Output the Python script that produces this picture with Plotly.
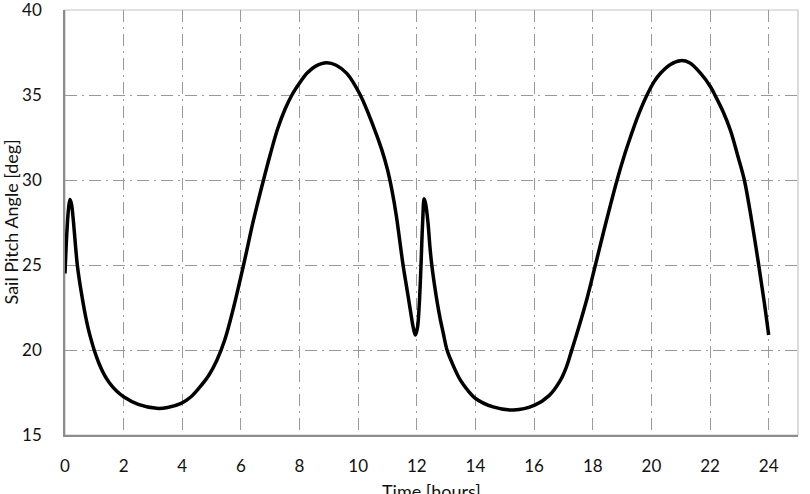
import plotly.graph_objects as go

# Time [hours] and sail pitch angle [deg]
time_h = [0.0, 0.06, 0.12, 0.17, 0.22, 0.28, 0.34, 0.42, 0.5, 0.6, 0.7, 0.8, 0.9,
          1.0, 1.15, 1.31, 1.5, 1.75, 2.0, 2.5, 3.13, 3.5, 3.96, 4.3, 4.61, 4.9, 5.18,
          5.45, 5.75, 6.09, 6.43, 6.77, 7.0, 7.25, 7.5, 7.74, 8.0, 8.25, 8.55, 8.93,
          9.25, 9.61, 10.07, 10.52, 10.8, 11.0, 11.15, 11.3, 11.53, 11.68, 11.8, 11.88,
          11.95, 12.02, 12.08, 12.14, 12.2, 12.25, 12.3, 12.38, 12.45, 12.51, 12.6,
          12.7, 12.8, 12.9, 13.03, 13.2, 13.48, 13.75, 13.99, 14.6, 15.3, 16.02, 16.5,
          16.89, 17.1, 17.25, 17.5, 17.8, 18.09, 18.45, 18.83, 19.05, 19.28, 19.55,
          19.85, 20.1, 20.31, 20.65, 20.99, 21.3, 21.68, 22.01, 22.18, 22.45, 22.7,
          22.95, 23.17, 23.42, 23.66, 23.85, 24.0]
pitch_deg = [24.5, 26.8, 28.3, 28.85, 28.6, 27.7, 26.5, 25.0, 24.0, 22.95, 22.0, 21.2, 20.55,
             19.97, 19.25, 18.64, 18.1, 17.6, 17.25, 16.8, 16.57, 16.62, 16.86, 17.25, 17.84,
             18.5, 19.4, 20.6, 22.5, 25.0, 27.65, 30.0, 31.5, 33.0, 34.15, 35.0, 35.7, 36.28,
             36.7, 36.9, 36.75, 36.27, 35.0, 33.14, 31.8, 30.6, 29.4, 27.9, 25.0, 23.4, 22.1,
             21.3, 20.88, 21.3, 22.6, 24.9, 27.6, 28.9, 28.6, 27.5, 26.0, 25.0, 23.85,
             22.75, 21.8, 21.0, 20.0, 19.25, 18.24, 17.6, 17.16, 16.65, 16.47, 16.76, 17.3,
             18.2, 19.0, 19.8, 21.2, 23.0, 25.0, 27.5, 30.0, 31.3, 32.5, 33.8,
             35.0, 35.8, 36.28, 36.8, 37.02, 36.9, 36.27, 35.5, 34.95, 34.0, 32.9,
             31.4, 30.0, 27.6, 25.0, 22.8, 20.88]

x_ticks = list(range(0, 25, 2))
y_ticks = [15, 20, 25, 30, 35, 40]

fig = go.Figure()
fig.add_trace(go.Scatter(
    x=time_h, y=pitch_deg, mode="lines",
    line=dict(color="black", width=3.5, shape="spline", smoothing=1.0),
    showlegend=False, hoverinfo="skip"))

grid = dict(showgrid=True, gridcolor="#9a9a9a", gridwidth=1.3,
            griddash="12px,5px,2px,5px", zeroline=False,
            showline=True, linecolor="#8c8c8c", linewidth=1.5,
            ticks="", ticklabeloverflow="allow", automargin=False,
            tickfont=dict(family="Lato, Carlito, sans-serif", size=17, color="#111"))

fig.update_xaxes(range=[0, 25], tickvals=x_ticks, ticktext=[str(v) for v in x_ticks],
                 ticklabelstandoff=15, **grid)
fig.update_yaxes(range=[15, 40], tickvals=y_ticks, ticktext=[str(v) for v in y_ticks],
                 ticklabelstandoff=18, **grid)

fig.add_shape(type="rect", xref="paper", yref="paper", x0=0, y0=0, x1=1, y1=1,
              line=dict(color="#c4c4c4", width=1.2), layer="below")

fig.add_annotation(text="Time [hours]", xref="paper", yref="paper", x=0.5, y=0,
                   yshift=-56, showarrow=False, yanchor="middle",
                   font=dict(family="Lato, Carlito, sans-serif", size=18, color="#111"))
fig.add_annotation(text="Sail Pitch Angle [deg]", xref="paper", yref="paper", x=0, y=0.5,
                   xshift=-55, showarrow=False, textangle=-90, xanchor="center",
                   font=dict(family="Lato, Carlito, sans-serif", size=18, color="#111"))

fig.update_layout(width=810, height=494, margin=dict(l=65, r=12, t=10, b=59, autoexpand=False),
                  paper_bgcolor="white", plot_bgcolor="white")

fig.write_html("out.html")
